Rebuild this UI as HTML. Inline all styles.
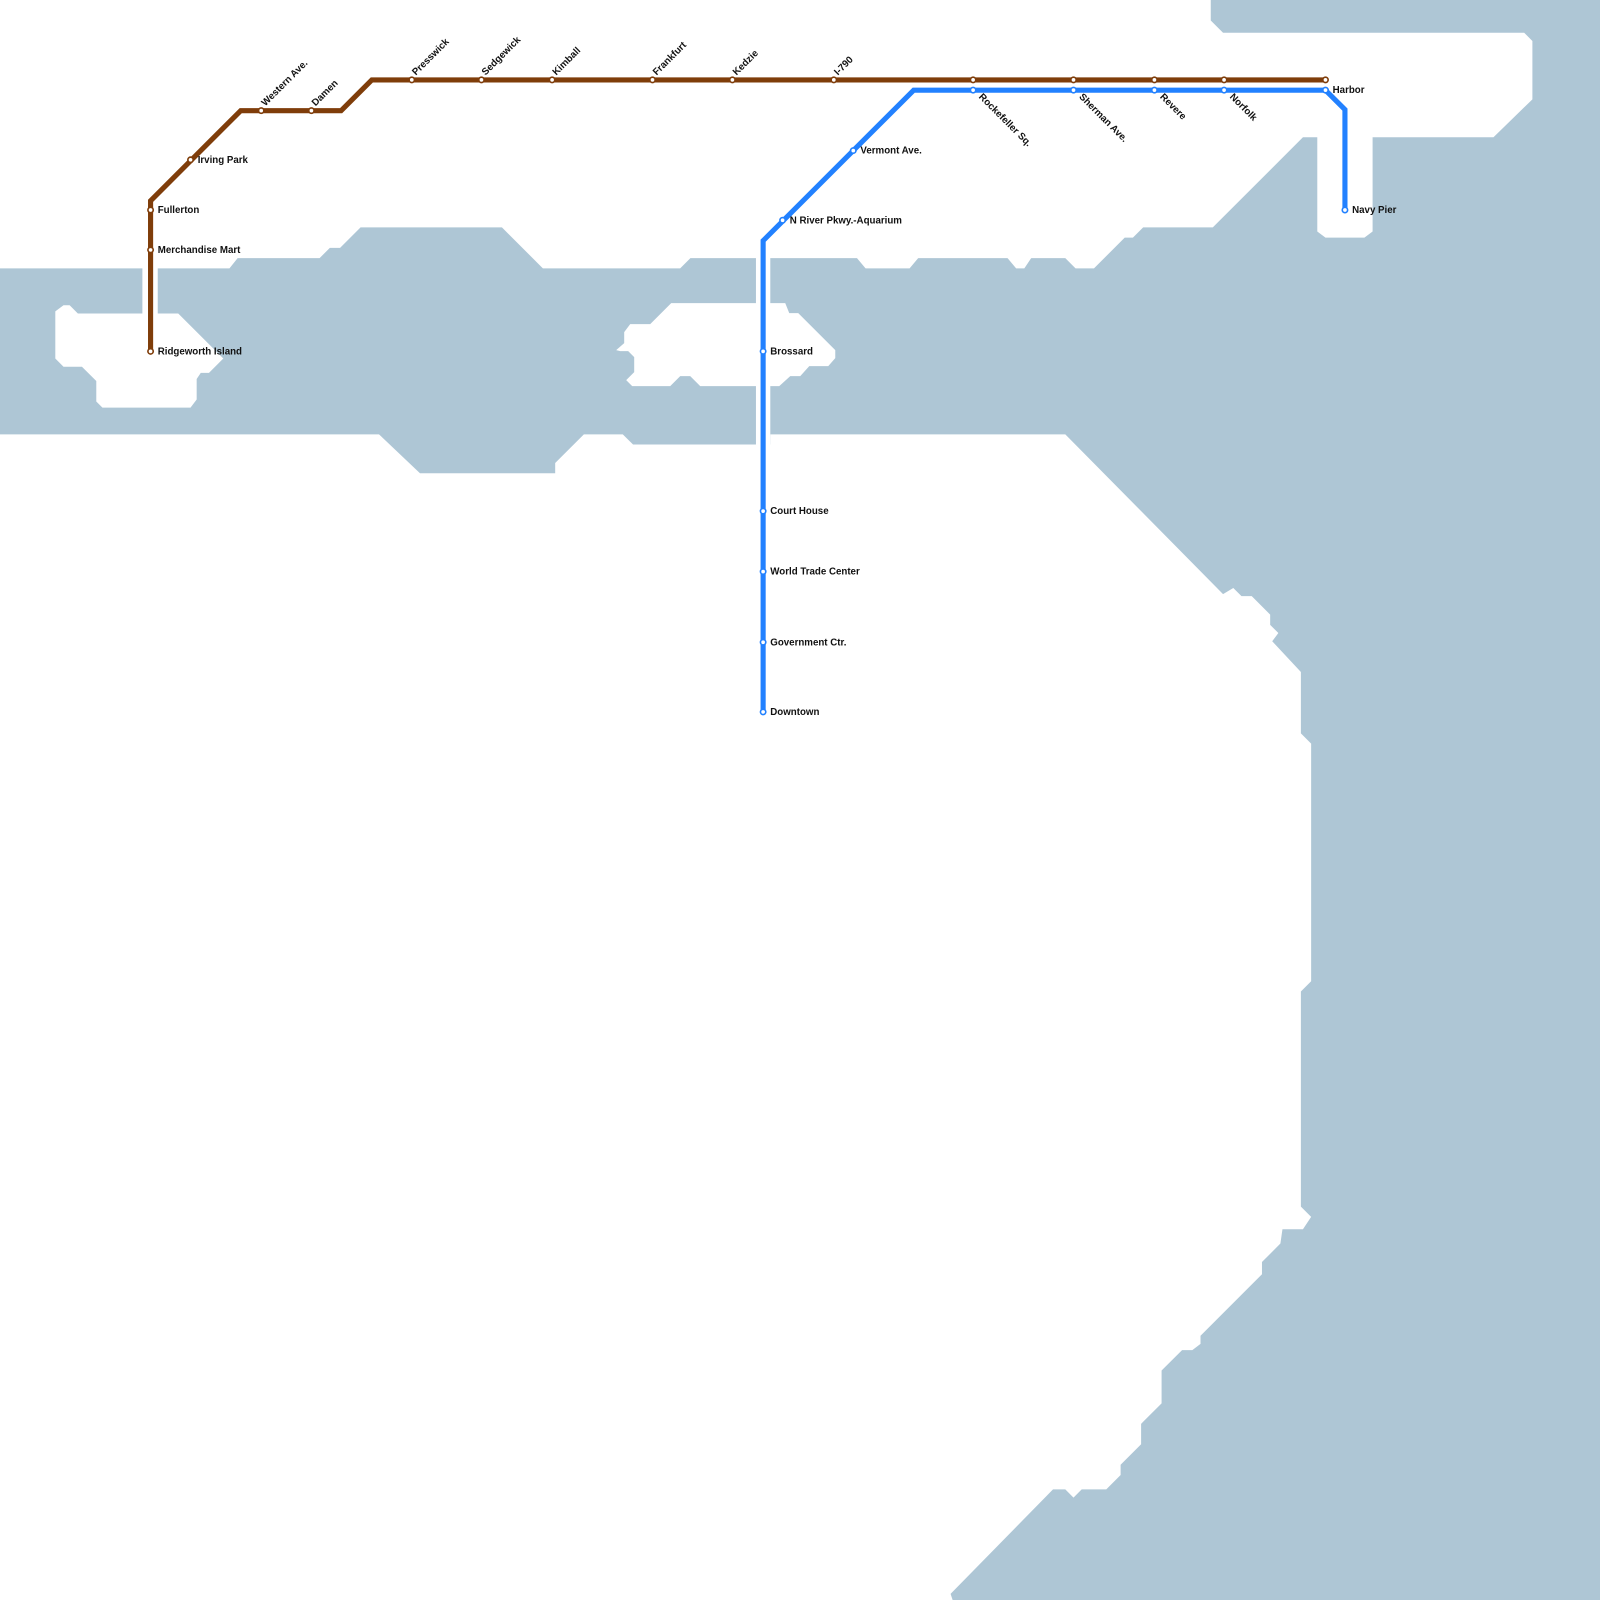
<!DOCTYPE html>
<html><head><meta charset="utf-8"><style>
html,body{margin:0;padding:0;background:#fff;}
svg{display:block;}
text{font-family:"Liberation Sans",Arial,sans-serif;font-weight:bold;font-size:9.5px;fill:#111;}
</style></head><body>
<svg width="1600" height="1600" viewBox="0 0 1562 1562" xmlns="http://www.w3.org/2000/svg">
<rect width="1562" height="1562" fill="#fff"/>
<g fill="#aec6d5">
<!-- main band -->
<polygon points="0,262 224,262 232,252 312,252 322,242 332,242 352,222 490,222 530,262 664,262 674,252 1000,252 1040,252 1050,262 1068,262 1098,232 1106,232 1116,222 1184,222 1272,134 1286,134 1286,226 1294,232 1332,232 1340,226 1340,134 1458,134 1496,97 1496,40 1488,32 1194,32 1182,20 1182,0 1562,0 1562,1562 930,1562 928,1556 1028,1454 1040,1454 1048,1462 1056,1454 1080,1454 1094,1440 1094,1430 1114,1410 1114,1390 1134,1370 1134,1338 1154,1318 1164,1318 1172,1312 1172,1304 1232,1244 1232,1232 1250,1214 1252,1200 1272,1200 1280,1188 1270,1178 1270,968 1280,958 1280,726 1270,716 1270,656 1242,626 1248,618 1240,610 1240,600 1222,582 1212,582 1204,574 1194,580 1040,424 752,424 752,434 618,434 608,424 570,424 542,452 542,462 410,462 370,424 0,424"/>
</g>
<g fill="#fff">
<!-- little dips along top of right band -->
<polygon points="835,250 845,262 888,262 898,250"/>
<polygon points="982,250 992,262 1000,262 1008,250"/>
<!-- Ridgeworth island -->
<polygon points="54,304 62,298 68,298 76,306 174,306 218,350 204,364 196,364 192,370 192,390 186,398 100,398 94,392 94,372 80,358 62,358 54,350"/>
<!-- Brossard island (true coords) -->
<g transform="scale(0.97656)">
<polygon points="671,303 785,303 789,313 798,313 808,323 835,350 835,358 828,366 809,366 800,376 790,376 779,386 700,386 690,376 680,376 670,386 632,386 626,380 634,372 634,357 628,351 620,351 616,350 624,343 624,332 630,324 650,324"/>
</g>
<!-- gaps around lines -->
<rect x="139" y="255" width="15" height="55"/>
<rect x="738" y="245" width="14" height="195"/>
</g>
<!-- lines -->
<polyline points="147,343 147,196 235,108 333,108 363,78 1294,78" fill="none" stroke="#7f3d0a" stroke-width="5" stroke-linejoin="miter"/>
<polyline points="745,695 745,235 892,88 1294,88 1313,107 1313,205" fill="none" stroke="#2281ff" stroke-width="5"/>
<g fill="#fff" stroke="#7f3d0a" stroke-width="1.6">
<circle cx="147" cy="205" r="2.6"/><circle cx="147" cy="244" r="2.6"/><circle cx="147" cy="343" r="2.6"/>
<circle cx="186" cy="156" r="2.6"/><circle cx="255" cy="108" r="2.6"/><circle cx="304" cy="108" r="2.6"/>
<circle cx="402" cy="78" r="2.6"/><circle cx="470" cy="78" r="2.6"/><circle cx="539" cy="78" r="2.6"/>
<circle cx="637" cy="78" r="2.6"/><circle cx="715" cy="78" r="2.6"/><circle cx="814" cy="78" r="2.6"/>
<circle cx="950" cy="78" r="2.6"/><circle cx="1048" cy="78" r="2.6"/><circle cx="1127" cy="78" r="2.6"/>
<circle cx="1195" cy="78" r="2.6"/><circle cx="1294" cy="78" r="2.6"/>
</g>
<g fill="#fff" stroke="#2281ff" stroke-width="1.6">
<circle cx="833" cy="147" r="2.6"/><circle cx="764" cy="215" r="2.6"/><circle cx="745" cy="343" r="2.6"/>
<circle cx="745" cy="499" r="2.6"/><circle cx="745" cy="558" r="2.6"/><circle cx="745" cy="627" r="2.6"/>
<circle cx="745" cy="695" r="2.6"/><circle cx="950" cy="88" r="2.6"/><circle cx="1048" cy="88" r="2.6"/>
<circle cx="1127" cy="88" r="2.6"/><circle cx="1195" cy="88" r="2.6"/><circle cx="1294" cy="88" r="2.6"/>
<circle cx="1313" cy="205" r="2.6"/>
</g>
<!-- labels -->
<text x="154" y="208">Fullerton</text>
<text x="154" y="247">Merchandise Mart</text>
<text x="154" y="346">Ridgeworth Island</text>
<text x="193" y="159">Irving Park</text>
<text x="1301" y="91">Harbor</text>
<text x="1320" y="208">Navy Pier</text>
<text x="840" y="150">Vermont Ave.</text>
<text x="771" y="218">N River Pkwy.-Aquarium</text>
<text x="752" y="346">Brossard</text>
<text x="752" y="502">Court House</text>
<text x="752" y="561">World Trade Center</text>
<text x="752" y="630">Government Ctr.</text>
<text x="752" y="698">Downtown</text>
<text transform="translate(259,104) rotate(-45)">Western Ave.</text>
<text transform="translate(308,104) rotate(-45)">Damen</text>
<text transform="translate(406,74) rotate(-45)">Presswick</text>
<text transform="translate(474,74) rotate(-45)">Sedgewick</text>
<text transform="translate(543,74) rotate(-45)">Kimball</text>
<text transform="translate(641,74) rotate(-45)">Frankfurt</text>
<text transform="translate(719,74) rotate(-45)">Kedzie</text>
<text transform="translate(818,74) rotate(-45)">I-790</text>
<text transform="translate(955,95) rotate(45)">Rockefeller Sq.</text>
<text transform="translate(1053,95) rotate(45)">Sherman Ave.</text>
<text transform="translate(1132,95) rotate(45)">Revere</text>
<text transform="translate(1200,95) rotate(45)">Norfolk</text>
</svg>
</body></html>
